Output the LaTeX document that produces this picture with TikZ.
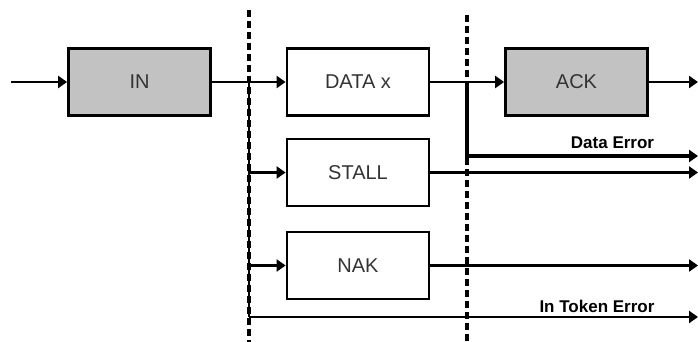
\documentclass[tikz,border=0pt]{standalone}
\usepackage{fontspec}
\setmainfont{Liberation Sans}
\usetikzlibrary{arrows.meta}
\begin{document}
\begin{tikzpicture}[x=1pt,y=-1pt,
  pkt/.style={draw=black,line width=2.8pt,minimum width=142pt,minimum height=67pt,inner sep=0pt,
    font=\fontsize{20}{22}\selectfont,text=black!80},
  grey/.style={fill=black!24},
  wire/.style={line width=2.6pt},
  tip/.style={-{Triangle[length=9pt,width=12pt]}},
  bus/.style={line width=4pt},
  divider/.style={line width=3.5pt,dash pattern=on 7pt off 4pt},
  lab/.style={font=\bfseries\fontsize{17}{19}\selectfont,inner sep=0pt,anchor=south}]
\useasboundingbox (0,0) rectangle (698,342);
% dividers
\draw[divider] (249,10) -- (249,342);
\draw[divider] (467,15) -- (467,342);
% packets
\node[pkt,grey] (in) at (139.5,82) {IN};
\node[pkt] (data) at (358,82) {DATA x};
\node[pkt] (stall) at (358,172.5) {STALL};
\node[pkt] (nak) at (358,265.5) {NAK};
\node[pkt,grey] (ack) at (576.5,82) {ACK};
% coordinates
\coordinate (start) at (11,82);
\coordinate (s1) at (249,82);
\coordinate (s2) at (249,317);
\coordinate (d1) at (467,82);
\coordinate (d2) at (467,156);
\coordinate (oack) at (698,82);
\coordinate (odata) at (698,156);
\coordinate (ostall) at (698,172.5);
\coordinate (onak) at (698,265.5);
\coordinate (otok) at (698,317);
% wires
\draw[wire,tip] (start) -- (in.west);
\draw[wire,tip] (in.east) -- (data.west);
\draw[wire] (s1) -- (s2);
\draw[wire,tip] (s1 |- stall.west) -- (stall.west);
\draw[wire,tip] (s1 |- nak.west) -- (nak.west);
\draw[wire,tip] (s2) -- (otok) node[lab,pos=0.775,yshift=3.5pt] (tl) {In Token Error};
\draw[wire,tip] (data.east) -- (ack.west);
\draw[bus,tip] (d1) -- (d2) -- (odata) node[lab,pos=0.63,yshift=5pt] (dl) {Data Error};
\draw[wire,tip] (stall.east) -- (ostall);
\draw[wire,tip] (nak.east) -- (onak);
\draw[wire,tip] (ack.east) -- (oack);
\end{tikzpicture}
\end{document}
